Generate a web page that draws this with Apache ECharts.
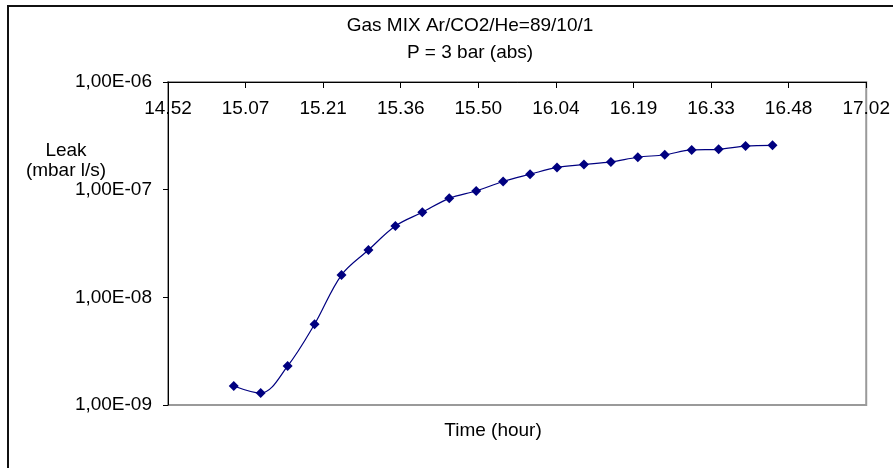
<!DOCTYPE html>
<html>
<head>
<meta charset="utf-8">
<script src="https://cdn.jsdelivr.net/npm/echarts@6/dist/echarts.min.js"></script>
<style>
    html, body { margin: 0; padding: 0; background: #fff; }
    #main { width: 893px; height: 468px; }
</style>
</head>
<body>
<div id="main"></div>
<script>
// measurement times (hh:mm)
var times = ['15:05', '15:10', '15:15', '15:20', '15:25', '15:30', '15:35', '15:40', '15:45', '15:50', '15:55',
    '16:00', '16:05', '16:10', '16:15', '16:20', '16:25', '16:30', '16:35', '16:40', '16:45'];
// leak rate, mbar l/s
var leak = [1.50e-9, 1.29e-9, 2.30e-9, 5.62e-9, 1.61e-8, 2.75e-8, 4.60e-8, 6.16e-8, 8.31e-8, 9.72e-8, 1.19e-7,
    1.39e-7, 1.61e-7, 1.71e-7, 1.81e-7, 2.00e-7, 2.11e-7, 2.34e-7, 2.37e-7, 2.54e-7, 2.58e-7];
// x axis tick labels (one every 0.01 day, starting at 0.62 day)
var tickLabels = ['14.52', '15.07', '15.21', '15.36', '15.50', '16.04', '16.19', '16.33', '16.48', '17.02'];

var FONT = 'Liberation Sans, Arial, sans-serif';

// hh:mm -> hundredths of a day (excel time axis)
function toDayUnits(t) {
    var p = t.split(':');
    var minutes = parseInt(p[0]) * 60 + parseInt(p[1]);
    return minutes / 14.4;
}

var points = [];
for (var i = 0; i < times.length; i++) {
    points.push([toDayUnits(times[i]), leak[i]]);
}

var myChart = echarts.init(document.getElementById('main'));
var option = {
    backgroundColor: '#fff',
    animation: false,
    title: {
        text: 'Gas MIX Ar/CO2/He=89/10/1\nP = 3 bar (abs)',
        left: 465,
        top: 7,
        textAlign: 'center',
        textStyle: {
            fontFamily: FONT,
            fontSize: 19,
            fontWeight: 'normal',
            color: '#000',
            lineHeight: 27
        }
    },
    grid: {
        left: 168,
        right: 25,
        top: 82,
        bottom: 63,
        show: true,
        borderColor: '#9a9a9a',
        borderWidth: 2,
        backgroundColor: '#fff'
    },
    xAxis: {
        type: 'value',
        position: 'top',
        min: 62,
        max: 71,
        interval: 1,
        axisLine: { lineStyle: { color: '#000', width: 1 } },
        axisTick: { inside: true, length: 6, lineStyle: { color: '#000' } },
        axisLabel: {
            inside: true,
            margin: 17,
            fontFamily: FONT,
            fontSize: 19,
            color: '#000',
            showMinLabel: true,
            showMaxLabel: true,
            formatter: function (v) {
                return tickLabels[Math.round(v - 62)];
            }
        },
        splitLine: { show: false }
    },
    yAxis: {
        type: 'log',
        logBase: 10,
        min: 1e-9,
        max: 1e-6,
        axisLine: { show: true, lineStyle: { color: '#000', width: 1 } },
        axisTick: { show: true, length: 5, lineStyle: { color: '#000' } },
        axisLabel: {
            margin: 16,
            fontFamily: FONT,
            fontSize: 19,
            color: '#000',
            formatter: function (v) {
                var e = Math.round(Math.log10(v));
                var s = String(Math.abs(e));
                if (s.length < 2) s = '0' + s;
                return '1,00E' + (e < 0 ? '-' : '+') + s;
            }
        },
        splitLine: { show: false },
        minorTick: { show: false }
    },
    graphic: [
        {
            // outer chart border (cut off on the right and bottom)
            type: 'rect',
            shape: { x: 8, y: 6, width: 950, height: 520 },
            style: { fill: 'none', stroke: '#111', lineWidth: 2 },
            silent: true,
            z: -1
        },
        {
            type: 'text',
            x: 66,
            y: 161,
            style: {
                text: 'Leak\n(mbar l/s)',
                font: '19px ' + FONT,
                fill: '#000',
                textAlign: 'center',
                textVerticalAlign: 'middle',
                lineHeight: 20
            }
        },
        {
            type: 'text',
            x: 493,
            y: 431,
            style: {
                text: 'Time (hour)',
                font: '19px ' + FONT,
                fill: '#000',
                textAlign: 'center',
                textVerticalAlign: 'middle'
            }
        }
    ],
    series: [
        {
            name: 'Leak',
            type: 'line',
            data: points,
            smooth: 0.35,
            symbol: 'diamond',
            symbolSize: [10, 10],
            lineStyle: { color: '#000080', width: 1.2 },
            itemStyle: { color: '#000080' }
        }
    ]
};
myChart.setOption(option);
</script>
</body>
</html>
